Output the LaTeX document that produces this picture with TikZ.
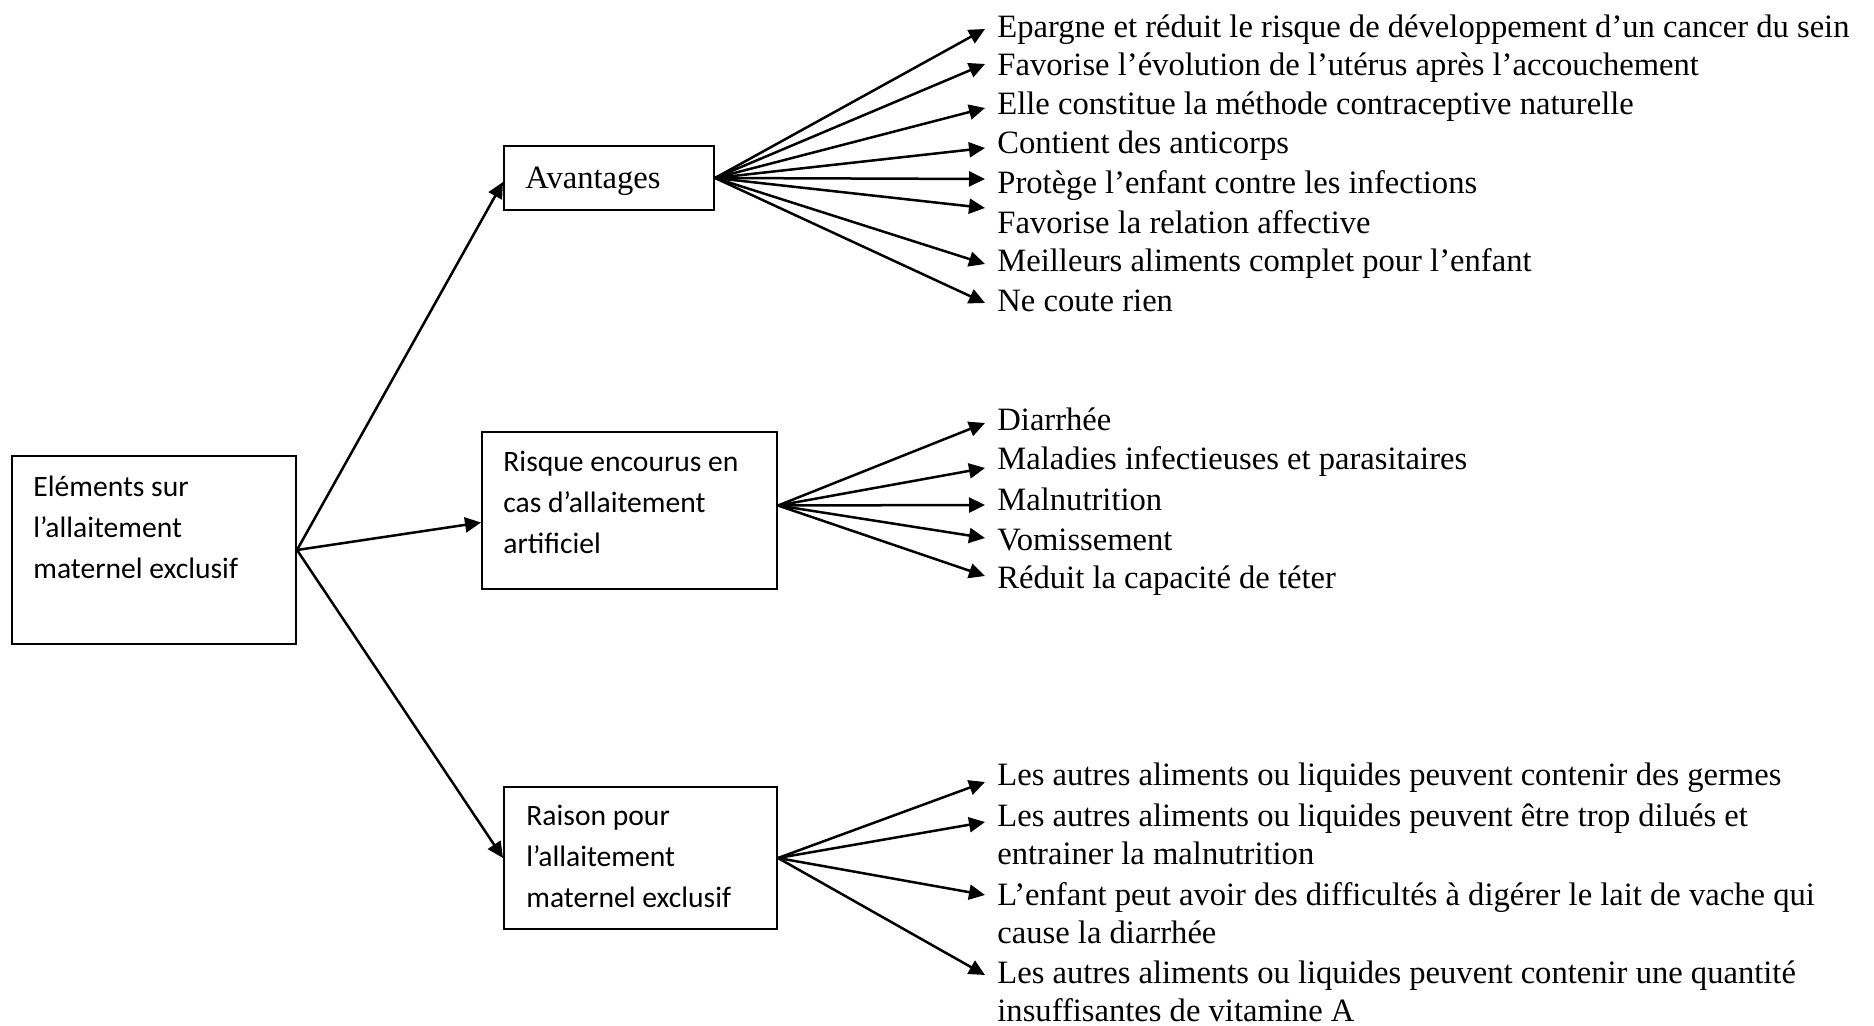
\documentclass[tikz,border=0pt]{standalone}
\usepackage{fontspec}
\setmainfont{Liberation Serif}
\newfontfamily\boxfont{Carlito}
\usetikzlibrary{arrows.meta}
\begin{document}
\begin{tikzpicture}[x=0.5pt,y=-0.5pt,
  boxnode/.style={draw, line width=1pt, inner sep=0pt},
  boxtext/.style={anchor=base west, inner sep=0pt, align=left, font=\boxfont\fontsize{14.8pt}{20.5pt}\selectfont},
  itemtext/.style={anchor=base west, inner sep=0pt, align=left, font=\fontsize{16.3pt}{18.6pt}\selectfont},
  arr/.style={line width=1.25pt, -{Triangle[length=8pt,width=7.5pt]}}]
\useasboundingbox (0,0) rectangle (1874,1026);
% boxes
\node[boxnode, minimum width=142pt, minimum height=94pt] (main) at (154,550) {};
\node[boxnode, minimum width=105pt, minimum height=32pt] (av) at (609,178) {};
\node[boxnode, minimum width=147.5pt, minimum height=78.5pt] (ris) at (629.5,510.5) {};
\node[boxnode, minimum width=136.5pt, minimum height=71pt] (rai) at (640.5,858) {};
% box texts (base anchor = baseline of last line)
\node[boxtext] (mainT) at (33,578) {Eléments sur\\l’allaitement\\maternel exclusif};
\node[itemtext] (avT) at (525,189) {Avantages};
\node[boxtext] (risT) at (503,553) {Risque encourus en\\cas d’allaitement\\artificiel};
\node[boxtext] (raiT) at (526,907) {Raison pour\\l’allaitement\\maternel exclusif};
% main arrows
\draw[arr] (main.east) -- ([yshift=-2pt]av.west);
\draw[arr] (main.east) -- ([yshift=-6pt]ris.west);
\draw[arr] (main.east) -- (rai.west);
% Avantages items
\node[itemtext] (a1) at (997,38) {Epargne et réduit le risque de développement d’un cancer du sein};
\node[itemtext] (a2) at (997,76) {Favorise l’évolution de l’utérus après l’accouchement};
\node[itemtext] (a3) at (997,115) {Elle constitue la méthode contraceptive naturelle};
\node[itemtext] (a4) at (997,154) {Contient des anticorps};
\node[itemtext] (a5) at (997,194) {Protège l’enfant contre les infections};
\node[itemtext] (a6) at (997,234) {Favorise la relation affective};
\node[itemtext] (a7) at (997,272) {Meilleurs aliments complet pour l’enfant};
\node[itemtext] (a8) at (997,312) {Ne coute rien};
\coordinate (ta1) at (985,29);
\coordinate (ta2) at (985,64);
\coordinate (ta3) at (985,108);
\coordinate (ta4) at (985,148);
\coordinate (ta5) at (985,179);
\coordinate (ta6) at (985,208);
\coordinate (ta7) at (985,264);
\coordinate (ta8) at (985,303);
\foreach \i in {1,...,8} \draw[arr] (av.east) -- (ta\i);
% Risque items
\node[itemtext] (r1) at (997,430) {Diarrhée};
\node[itemtext] (r2) at (997,470) {Maladies infectieuses et parasitaires};
\node[itemtext] (r3) at (997,510) {Malnutrition};
\node[itemtext] (r4) at (997,550) {Vomissement};
\node[itemtext] (r5) at (997,588) {Réduit la capacité de téter};
\coordinate (tr1) at (985,423);
\coordinate (tr2) at (985,468);
\coordinate (tr3) at (985,505);
\coordinate (tr4) at (985,538);
\coordinate (tr5) at (985,576);
\foreach \i in {1,...,5} \draw[arr] ([yshift=2.5pt]ris.east) -- (tr\i);
% Raison items (base anchor = baseline of last line)
\node[itemtext] (s1) at (997,785) {Les autres aliments ou liquides peuvent contenir des germes};
\node[itemtext] (s2) at (997,864) {Les autres aliments ou liquides peuvent être trop dilués et\\entrainer la malnutrition};
\node[itemtext] (s3) at (997,943) {L’enfant peut avoir des difficultés à digérer le lait de vache qui\\cause la diarrhée};
\node[itemtext] (s4) at (997,1021) {Les autres aliments ou liquides peuvent contenir une quantité\\insuffisantes de vitamine A};
\coordinate (ts1) at (985,782);
\coordinate (ts2) at (985,822);
\coordinate (ts3) at (985,895);
\coordinate (ts4) at (985,975);
\foreach \i in {1,...,4} \draw[arr] (rai.east) -- (ts\i);
\end{tikzpicture}
\end{document}
